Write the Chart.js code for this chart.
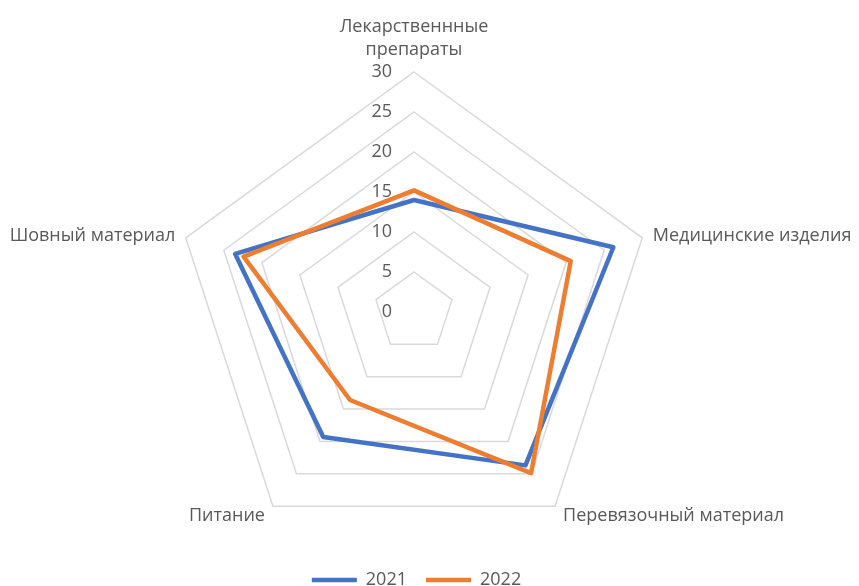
<!DOCTYPE html>
<html>
<head>
<meta charset="utf-8">
<script src="https://cdn.jsdelivr.net/npm/chart.js@4/dist/chart.umd.min.js"></script>
<style>
  html, body { margin: 0; padding: 0; background: #ffffff; }
  #wrap { width: 859px; height: 586px; position: relative; }
</style>
</head>
<body>
<div id="wrap"><canvas id="c" width="859" height="586"></canvas></div>
<script>
const categories = [
  ['Лекарственнные', 'препараты'],
  'Медицинские изделия',
  'Перевязочный материал',
  'Питание',
  'Шовный материал'
];
const seriesNames = ['2021', '2022'];
const values2021 = [14.0, 26.2, 23.7, 19.3, 23.5];
const values2022 = [15.2, 20.6, 24.9, 13.6, 22.4];
const seriesColors = ['#4472C4', '#ED7D31'];
const tickMin = 0, tickMax = 30, tickStep = 5;

const TEXT_COLOR = '#595959';
const FONT_FAMILY = '"Open Sans", "Noto Sans", sans-serif';

const radarLabelsPlugin = {
  id: 'radarLabels',
  beforeDatasetsDraw(chart) {
    const s = chart.scales.r;
    const ctx = chart.ctx;
    ctx.save();
    ctx.fillStyle = TEXT_COLOR;
    ctx.font = '18px ' + FONT_FAMILY;
    ctx.textAlign = 'right';
    ctx.textBaseline = 'middle';
    s.ticks.forEach(t => {
      const d = s.getDistanceFromCenterForValue(t.value);
      ctx.fillText(String(t.value), s.xCenter - 22, s.yCenter - d);
    });
    ctx.restore();
  },
  afterDraw(chart) {
    const s = chart.scales.r;
    const ctx = chart.ctx;
    const labels = chart.data.labels;
    ctx.save();
    ctx.fillStyle = TEXT_COLOR;
    ctx.font = '18px ' + FONT_FAMILY;
    const lineH = 23;
    labels.forEach((lab, i) => {
      const p = s.getPointPosition(i, s.drawingArea);
      const a = s.getIndexAngle(i);
      const sx = Math.sin(a), cy = -Math.cos(a);
      const lines = Array.isArray(lab) ? lab : [lab];
      ctx.textBaseline = 'alphabetic';
      if (Math.abs(sx) < 0.1) {
        ctx.textAlign = 'center';
        if (cy < 0) {
          const baseLast = p.y - 17;
          lines.forEach((ln, k) => {
            ctx.fillText(ln, p.x, baseLast - (lines.length - 1 - k) * lineH);
          });
        } else {
          lines.forEach((ln, k) => ctx.fillText(ln, p.x, p.y + 20 + k * lineH));
        }
      } else {
        const right = sx > 0;
        ctx.textAlign = right ? 'left' : 'right';
        const x = p.x + (right ? 1 : -1) * (cy > 0.5 ? 8 : 10.5);
        const y0 = p.y + (cy > 0.5 ? 15 : 3);
        lines.forEach((ln, k) => ctx.fillText(ln, x, y0 + k * lineH));
      }
    });
    ctx.restore();
  }
};

const ctx = document.getElementById('c').getContext('2d');
new Chart(ctx, {
  type: 'radar',
  data: {
    labels: categories,
    datasets: [
      {
        label: seriesNames[0],
        data: values2021,
        borderColor: seriesColors[0],
        backgroundColor: seriesColors[0],
        borderWidth: 4.5,
        borderJoinStyle: 'round',
        borderCapStyle: 'round',
        fill: false,
        pointRadius: 0,
        pointHoverRadius: 0,
        order: 1
      },
      {
        label: seriesNames[1],
        data: values2022,
        borderColor: seriesColors[1],
        backgroundColor: seriesColors[1],
        borderWidth: 4.5,
        borderJoinStyle: 'round',
        borderCapStyle: 'round',
        fill: false,
        pointRadius: 0,
        pointHoverRadius: 0,
        order: 0
      }
    ]
  },
  options: {
    responsive: false,
    animation: false,
    devicePixelRatio: 1,
    layout: { padding: { left: 0, right: 26, top: 0, bottom: -13 } },
    elements: { line: { tension: 0 } },
    plugins: {
      tooltip: { enabled: false },
      legend: {
        position: 'bottom',
        labels: {
          usePointStyle: true,
          pointStyle: 'line',
          pointStyleWidth: 45,
          padding: 19,
          color: TEXT_COLOR,
          font: { size: 18, family: FONT_FAMILY },
          sort: (a, b) => a.datasetIndex - b.datasetIndex
        }
      }
    },
    scales: {
      r: {
        min: tickMin,
        max: tickMax,
        beginAtZero: true,
        ticks: { stepSize: tickStep, display: false },
        angleLines: { display: false },
        grid: { color: '#d9d9d9', lineWidth: 1.5 },
        pointLabels: { display: false },
        afterFit: (s) => { s.xCenter = 414; s.yCenter = 312; s.drawingArea = 240; }
      }
    }
  },
  plugins: [radarLabelsPlugin]
});
</script>
</body>
</html>
